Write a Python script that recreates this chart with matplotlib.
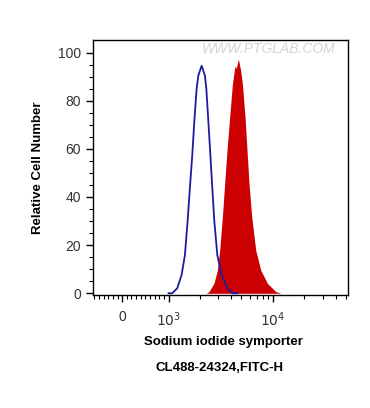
import matplotlib
matplotlib.use("Agg")
import matplotlib.pyplot as plt
from matplotlib.ticker import FixedLocator

plt.rcParams["font.family"] = ["Liberation Sans", "DejaVu Sans"]

# isotype control (blue outline)
ctrl_x = [1000, 1085, 1212, 1334, 1435, 1523, 1602, 1690, 1767, 1859, 1930, 2077,
          2234, 2305, 2409, 2518, 2630, 2750, 2939, 3232, 3667, 4098, 4600]
ctrl_y = [0, 0, 2.1, 7.6, 15.8, 29.9, 43.6, 57.6, 71.4, 84.9, 90.4, 94.5,
          90.4, 84.9, 71.4, 57.6, 43.6, 29.9, 15.8, 7.6, 2.1, 0, 0]

# antibody stained (red filled)
stain_x = [600, 2300, 2441, 2726, 2939, 3094, 3284, 3455, 3636, 3860, 4098, 4340,
           4457, 4677, 4921, 5113, 5416, 5661, 5917, 6281, 6864, 7664, 8892,
           10686, 12000, 50000]
stain_y = [0, 0, 0.7, 4.1, 9.6, 17.9, 31.7, 45.5, 59.3, 73.2, 86.9, 94.5,
           93.3, 97.3, 92.5, 86.9, 73.2, 59.3, 45.5, 31.7, 17.9, 9.6, 4.1,
           0.7, 0, 0]

y_ticks = [0, 20, 40, 60, 80, 100]
x_major = [0, 1000, 10000]
x_labels = ["0", r"$10^3$", r"$10^4$"]
x_minor = ([-600, -500, -400, -300, -200, -100, 100, 200, 300, 400, 500, 600, 700, 800, 900]
           + [2000, 3000, 4000, 5000, 6000, 7000, 8000, 9000]
           + [20000, 30000, 40000, 50000])

fig = plt.figure(figsize=(3.70, 4.08), dpi=100)
ax = fig.add_axes([0.2514, 0.277, 0.689, 0.625])

ax.fill_between(stain_x, stain_y, 0, color="#cc0000", linewidth=0)
ax.plot(ctrl_x, ctrl_y, color="#1c1ca0", linewidth=1.3)

ax.set_xscale("symlog", linthresh=1000, linscale=0.4)
ax.set_xlim(-630, 52600)
ax.set_ylim(-0.7, 105.2)

ax.set_xticks(x_major)
ax.set_xticklabels(x_labels)
ax.xaxis.set_minor_locator(FixedLocator(x_minor))
ax.set_yticks(y_ticks)
ax.yaxis.set_minor_locator(FixedLocator(list(range(5, 105, 5))))

ax.tick_params(axis="both", which="major", direction="out", length=5, width=1,
               labelsize=10, colors="black", labelcolor="#333333")
ax.tick_params(axis="both", which="minor", direction="out", length=3, width=0.8)
ax.tick_params(axis="x", pad=6)
for s in ax.spines.values():
    s.set_linewidth(1)

ax.set_ylabel("Relative Cell Number", fontsize=9.5, fontweight="bold", labelpad=10)
fig.text(0.604, 0.162, "Sodium iodide symporter", fontsize=9.5,
         fontweight="bold", ha="center", va="center")
fig.text(0.593, 0.098, "CL488-24324,FITC-H", fontsize=9.5,
         fontweight="bold", ha="center", va="center")

ax.text(0.69, 0.965, "WWW.PTGLAB.COM", transform=ax.transAxes, fontsize=10,
        color="#d4d4d4", ha="center", va="center", style="italic")

fig.savefig("out.png", dpi=100)
